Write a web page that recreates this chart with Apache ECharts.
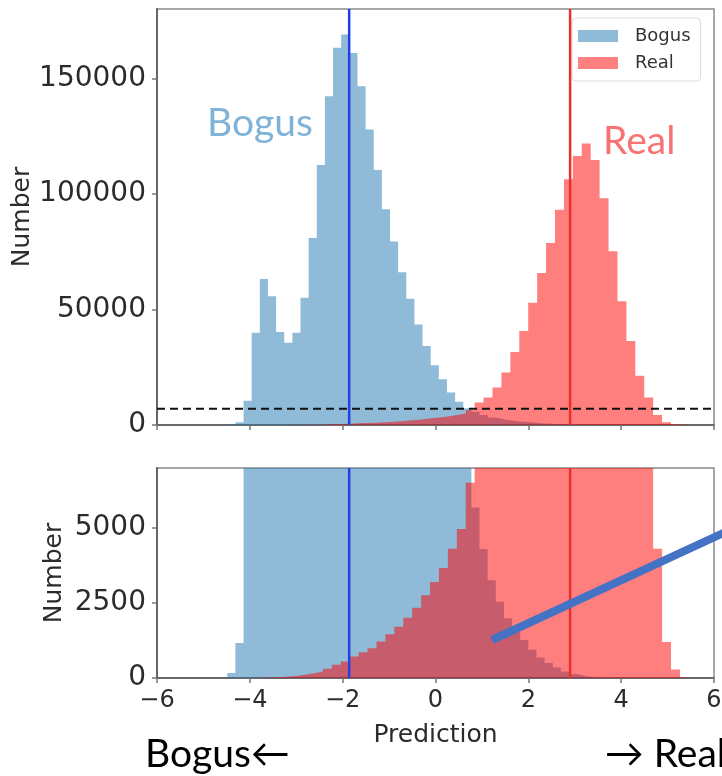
<!DOCTYPE html>
<html>
<head>
<meta charset="utf-8">
<script src="https://cdn.jsdelivr.net/npm/echarts@6/dist/echarts.min.js"></script>
<style>
html, body { margin: 0; padding: 0; background: #fff; }
#chart { width: 722px; height: 776px; }
</style>
</head>
<body>
<div id="chart"></div>
<script>
var myChart = echarts.init(document.getElementById('chart'));

// histogram bins: first left edge, bin width, counts per bin
var bogusStart = -4.486;
var bogusWidth = 0.1753;
var bogusCounts = [
    170, 1170, 10500, 39950, 63200, 55750, 40230, 35630, 39950, 55030,
    80890, 112500, 142240, 163200, 168960, 160920, 146550, 127870, 110340, 93390,
    79450, 66090, 54600, 43530, 34200, 25860, 19830, 14080, 10060, 7200,
    5680, 4300, 3260, 2540, 1990, 1550, 1270, 940, 680, 500,
    350, 220, 130, 70, 30, 10
];
var realStart = -3.964;
var realWidth = 0.1923;
var realCounts = [
    8, 15, 25, 45, 70, 110, 160, 220, 309, 442,
    552, 717, 861, 993, 1214, 1457, 1711, 2009, 2340, 2759,
    3201, 3664, 4305, 4967, 6512, 9770, 11930, 16240, 22700, 31610,
    40660, 52870, 65800, 78730, 93100, 106320, 116380, 121840, 114650, 98130,
    75140, 53590, 36350, 21260, 11930, 4310, 1200, 280, 30
];
var cutValues = [-1.86, 2.9];     // bogus / real thresholds
var zoomLevel = 7000;             // dashed line = top of lower panel
var xTicks = [-6, -4, -2, 0, 2, 4, 6];
var topTicks = [0, 50000, 100000, 150000];
var bottomTicks = [0, 2500, 5000];

function histPoints(start, width, counts) {
    var pts = counts.map(function (c, i) { return [start + i * width, c]; });
    pts.push([start + counts.length * width, 0]);
    return pts;
}

var bogusData = histPoints(bogusStart, bogusWidth, bogusCounts);
var realData = histPoints(realStart, realWidth, realCounts);

var axisFont = 'DejaVu Sans';
var textColor = '#2b2b2b';

function minusFmt(v) {
    return v < 0 ? '\u2212' + Math.abs(v) : String(v);
}

function makeX(idx, showLabels) {
    return {
        gridIndex: idx,
        type: 'value',
        min: xTicks[0],
        max: xTicks[xTicks.length - 1],
        interval: 2,
        splitLine: { show: false },
        axisLine: { onZero: false, lineStyle: { color: '#555', width: 1.5 } },
        axisTick: { show: true, length: 5, lineStyle: { color: '#777', width: 1.5 } },
        axisLabel: {
            show: showLabels,
            formatter: minusFmt,
            fontSize: 24,
            fontFamily: axisFont,
            color: textColor,
            margin: 11
        },
        name: showLabels ? 'Prediction' : '',
        nameLocation: 'middle',
        nameGap: 45,
        nameTextStyle: { fontSize: 25, fontFamily: axisFont, color: textColor }
    };
}

function makeY(idx, max, interval, ticks, gap) {
    return {
        gridIndex: idx,
        type: 'value',
        min: 0,
        max: max,
        interval: interval,
        splitLine: { show: false },
        axisLine: { show: true, onZero: false, lineStyle: { color: '#666', width: 2 } },
        axisTick: { show: true, length: 5, lineStyle: { color: '#777', width: 1.5 } },
        axisLabel: {
            showMaxLabel: false,
            formatter: function (v) { return ticks.indexOf(v) >= 0 ? String(v) : ''; },
            fontSize: 28,
            fontFamily: axisFont,
            color: textColor,
            margin: 11
        },
        name: 'Number',
        nameLocation: 'middle',
        nameGap: gap,
        nameMoveOverlap: false,
        nameTextStyle: { fontSize: 25, fontFamily: axisFont, color: textColor }
    };
}

function histSeries(name, data, fill, idx) {
    return {
        name: name,
        type: 'line',
        step: 'end',
        xAxisIndex: idx,
        yAxisIndex: idx,
        data: data,
        showSymbol: false,
        symbol: 'none',
        silent: true,
        clip: true,
        lineStyle: { width: 0 },
        itemStyle: { color: fill },
        areaStyle: { color: fill, opacity: 1 },
        z: 2
    };
}

function cutSeries(idx) {
    return {
        type: 'custom',
        xAxisIndex: idx,
        yAxisIndex: idx,
        data: cutValues.map(function (v, i) { return [v, i]; }),
        silent: true,
        z: 5,
        renderItem: function (params, api) {
            var cs = params.coordSys;
            var x = api.coord([api.value(0), 0])[0];
            var colors = ['#2040e6', '#e8302c'];
            return {
                type: 'line',
                shape: { x1: x, y1: cs.y, x2: x, y2: cs.y + cs.height },
                style: { stroke: colors[api.value(1)], lineWidth: 2.5 }
            };
        }
    };
}

var blueFill = 'rgba(31,119,180,0.5)';
var redFill = 'rgba(255,0,0,0.5)';

option = {
    animation: false,
    backgroundColor: '#fff',
    grid: [
        { left: 157, top: 9, width: 557, height: 416, outerBoundsMode: 'none', containLabel: false,
          show: true, borderColor: '#8a8a8a', borderWidth: 1.5 },
        { left: 157, top: 468, width: 557, height: 210, outerBoundsMode: 'none', containLabel: false,
          show: true, borderColor: '#8a8a8a', borderWidth: 1.5 }
    ],
    xAxis: [makeX(0, false), makeX(1, true)],
    yAxis: [makeY(0, 180000, 50000, topTicks, 122), makeY(1, zoomLevel, 2500, bottomTicks, 90)],
    legend: {
        orient: 'vertical',
        left: 572,
        top: 18,
        padding: [9, 10, 9, 6],
        itemWidth: 40,
        itemHeight: 12,
        itemGap: 9,
        selectedMode: false,
        backgroundColor: '#fff',
        borderColor: '#ddd',
        borderWidth: 1,
        borderRadius: 4,
        textStyle: { fontSize: 18, fontFamily: axisFont, color: '#333', padding: [0, 0, 0, 12] },
        data: [
            { name: 'Bogus', icon: 'rect', itemStyle: { color: '#8fbbd9' } },
            { name: 'Real', icon: 'rect', itemStyle: { color: '#ff8080' } }
        ]
    },
    series: [
        histSeries('Bogus', bogusData, blueFill, 0),
        histSeries('Real', realData, redFill, 0),
        histSeries('Bogus', bogusData, blueFill, 1),
        histSeries('Real', realData, redFill, 1),
        {
            type: 'line',
            xAxisIndex: 0,
            yAxisIndex: 0,
            data: [[xTicks[0], zoomLevel], [xTicks[xTicks.length - 1], zoomLevel]],
            showSymbol: false,
            symbol: 'none',
            silent: true,
            z: 4,
            lineStyle: { color: '#111', width: 2, type: [8, 5] }
        },
        cutSeries(0),
        cutSeries(1)
    ],
    graphic: [
        { type: 'text', left: 207, top: 104, style: { text: 'Bogus', font: '39px Lato', fill: '#7fb3d8' } },
        { type: 'text', left: 603, top: 122, style: { text: 'Real', font: '39px Lato', fill: '#f87272' } },
        { type: 'text', left: 145, top: 735, style: { text: 'Bogus\u2190', font: '39px Lato', fill: '#000' } },
        { type: 'text', right: -4, top: 735, style: { text: '\u2192 Real', font: '39px Lato', fill: '#000' } },
        { type: 'line', shape: { x1: 492, y1: 640, x2: 730, y2: 530 }, style: { stroke: '#4472c4', lineWidth: 8 }, z: 20 }
    ]
};

myChart.setOption(option);
</script>
</body>
</html>
